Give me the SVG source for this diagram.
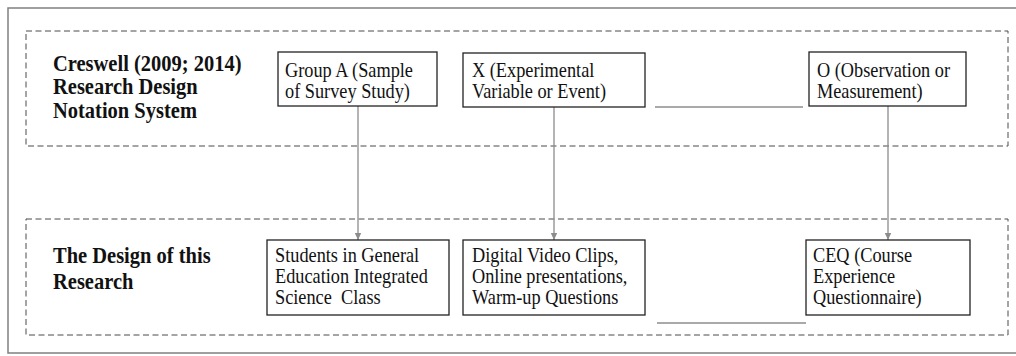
<svg xmlns="http://www.w3.org/2000/svg" width="1016" height="356" viewBox="0 0 1016 356">
  <defs>
    <style>
      .frame { fill: none; stroke: #808080; stroke-width: 1.5; }
      .band { fill: none; stroke: #4a4a4a; stroke-width: 1; stroke-dasharray: 6 3.5; }
      .box { fill: #ffffff; stroke: #222222; stroke-width: 1.3; }
      .wire { fill: none; stroke: #8c8c8c; stroke-width: 1.3; }
      .head { font-family: "Liberation Serif", "Times New Roman", serif; font-weight: bold; font-size: 20.5px; fill: #111111; }
      .label { font-family: "Liberation Serif", "Times New Roman", serif; font-size: 18.3px; fill: #111111; white-space: pre; }
    </style>
    <marker id="arrow" markerWidth="8" markerHeight="8" refX="7" refY="4" orient="auto" markerUnits="userSpaceOnUse">
      <path d="M0,0.8 L7,4 L0,7.2 Z" fill="#8c8c8c"/>
    </marker>
  </defs>

  <rect width="1016" height="356" fill="#ffffff"/>

  <!-- outer frame, open on the right -->
  <path class="frame" d="M1020,8 H8 V353 H1020"/>

  <!-- dashed bands with their row headings (type set slightly tall) -->
  <g id="band-notation">
    <rect class="band" x="26" y="31" width="982" height="115"/>
    <g transform="translate(53 71) scale(1 1.1)">
      <text class="head" x="0" y="0">Creswell (2009; 2014)</text>
      <text class="head" x="0" y="21.36">Research Design</text>
      <text class="head" x="0" y="42.73">Notation System</text>
    </g>
  </g>
  <g id="band-design">
    <rect class="band" x="26" y="219" width="982" height="116"/>
    <g transform="translate(53 263) scale(1 1.1)">
      <text class="head" x="0" y="0">The Design of this</text>
      <text class="head" x="0" y="23.64">Research</text>
    </g>
  </g>

  <!-- connectors -->
  <g id="connectors">
    <line class="wire" x1="358" y1="106" x2="358" y2="240" marker-end="url(#arrow)"/>
    <line class="wire" x1="554" y1="107" x2="554" y2="240" marker-end="url(#arrow)"/>
    <line class="wire" x1="888" y1="106" x2="888" y2="240" marker-end="url(#arrow)"/>
    <line class="wire" x1="655" y1="107" x2="803" y2="107"/>
    <line class="wire" x1="657" y1="323" x2="806" y2="323"/>
  </g>

  <!-- notation row -->
  <g id="node-group-a">
    <rect class="box" x="278" y="52" width="159" height="54"/>
    <g transform="translate(285 77) scale(1 1.1)">
      <text class="label" x="0" y="0">Group A (Sample</text>
      <text class="label" x="0" y="19.09">of Survey Study)</text>
    </g>
  </g>
  <g id="node-x">
    <rect class="box" x="463" y="53" width="182" height="54"/>
    <g transform="translate(472 77) scale(1 1.1)">
      <text class="label" x="0" y="0">X (Experimental</text>
      <text class="label" x="0" y="19.09">Variable or Event)</text>
    </g>
  </g>
  <g id="node-o">
    <rect class="box" x="809" y="52" width="157" height="54"/>
    <g transform="translate(817 77) scale(1 1.1)">
      <text class="label" x="0" y="0">O (Observation or</text>
      <text class="label" x="0" y="19.09">Measurement)</text>
    </g>
  </g>

  <!-- design row -->
  <g id="node-students">
    <rect class="box" x="267" y="240" width="182" height="75"/>
    <g transform="translate(275 262) scale(1 1.1)">
      <text class="label" x="0" y="0">Students in General</text>
      <text class="label" x="0" y="19.09">Education Integrated</text>
      <text class="label" x="0" y="38.18" xml:space="preserve">Science  Class</text>
    </g>
  </g>
  <g id="node-media">
    <rect class="box" x="463" y="240" width="182" height="75"/>
    <g transform="translate(472 262) scale(1 1.1)">
      <text class="label" x="0" y="0">Digital Video Clips,</text>
      <text class="label" x="0" y="19.09">Online presentations,</text>
      <text class="label" x="0" y="38.18">Warm-up Questions</text>
    </g>
  </g>
  <g id="node-ceq">
    <rect class="box" x="806" y="240" width="164" height="75"/>
    <g transform="translate(813 262) scale(1 1.1)">
      <text class="label" x="0" y="0">CEQ (Course</text>
      <text class="label" x="0" y="19.09">Experience</text>
      <text class="label" x="0" y="38.18">Questionnaire)</text>
    </g>
  </g>
</svg>
